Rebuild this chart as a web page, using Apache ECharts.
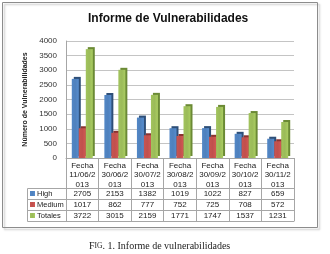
<!DOCTYPE html>
<html>
<head>
<meta charset="utf-8">
<script src="https://cdn.jsdelivr.net/npm/echarts@6/dist/echarts.min.js"></script>
<style>
html, body { margin: 0; padding: 0; background: #fff; }
#main { width: 330px; height: 254px; }
</style>
</head>
<body>
<div id="main"></div>
<script>
var fechas = ['11/06/2013', '30/06/2013', '30/07/2013', '30/08/2013', '30/09/2013', '30/10/2013', '30/11/2013']
var high = [2705, 2153, 1382, 1019, 1022, 827, 659]
var medium = [1017, 862, 777, 752, 725, 708, 572]
var totales = [3722, 3015, 2159, 1771, 1747, 1537, 1231]

var colors = ['#4F81BD', '#C0504D', '#9BBB59']
var sides = ['#2E4F78', '#8A3330', '#6B8A35']
var font = 'Liberation Sans'

var chart = echarts.init(document.getElementById('main'))

// header labels: "Fecha\n11/06/2\n013"
var headers = fechas.map(f => 'Fecha\n' + f.slice(0, 7) + '\n' + f.slice(7))

var rowAxis = function (values, offset) {
    return {
        type: 'category',
        data: values.map(String),
        position: 'bottom',
        offset: offset,
        axisLine: { show: true, lineStyle: { color: '#a6a6a6' } },
        axisTick: { show: false },
        axisLabel: { interval: 0, margin: 2, fontSize: 8, color: '#222', fontFamily: font }
    }
}

var barSeries = function (name, data, i) {
    return {
        name: name,
        type: 'bar',
        data: data,
        barWidth: 7,
        barGap: '0%',
        itemStyle: {
            color: new echarts.graphic.LinearGradient(0, 0, 1, 0, [
                { offset: 0, color: echarts.color.lift(colors[i], -0.05) },
                { offset: 0.5, color: colors[i] },
                { offset: 1, color: echarts.color.lift(colors[i], -0.1) }
            ]),
            shadowColor: sides[i],
            shadowOffsetX: 2,
            shadowOffsetY: -2,
            shadowBlur: 0
        }
    }
}

chart.setOption({
    animation: false,
    title: [{
        text: 'Informe de Vulnerabilidades',
        left: 83,
        top: 8,
        textStyle: { fontSize: 12, fontWeight: 'bold', color: '#111', fontFamily: font }
    }, {
        text: '{a|F}{b|IG}{a|. 1. Informe de vulnerabilidades}',
        left: 84,
        top: 236,
        textStyle: {
            fontWeight: 'normal',
            rich: {
                a: { fontSize: 10, fontWeight: 'normal', color: '#222', fontFamily: 'Liberation Serif' },
                b: { fontSize: 7.5, fontWeight: 'normal', color: '#222', fontFamily: 'Liberation Serif' }
            }
        }
    }],
    legend: {
        orient: 'vertical',
        left: 30,
        top: 188,
        padding: 0,
        itemWidth: 5,
        itemHeight: 5,
        itemGap: 0,
        icon: 'rect',
        textStyle: { fontSize: 7.5, lineHeight: 11, color: '#222', fontFamily: font, padding: [0, 0, 0, -3] },
        data: ['High', 'Medium', 'Totales']
    },
    grid: { left: 66, right: 36, top: 41, bottom: 96 },
    xAxis: [{
        type: 'category',
        data: headers,
        axisLine: { show: true, lineStyle: { color: '#a6a6a6' } },
        axisTick: { show: true, length: 63, lineStyle: { color: '#a6a6a6' } },
        axisLabel: { interval: 0, margin: 3, fontSize: 8, lineHeight: 9.5, color: '#222', fontFamily: font }
    },
        rowAxis(high, 30),
        rowAxis(medium, 41),
        rowAxis(totales, 52),
        rowAxis(fechas.map(() => ''), 63)
    ],
    yAxis: {
        type: 'value',
        min: 0,
        max: 4000,
        interval: 500,
        name: 'Número de Vulnerabilidades',
        nameLocation: 'middle',
        nameGap: 36,
        nameTextStyle: { fontSize: 7, fontWeight: 'bold', color: '#222', fontFamily: font },
        axisLine: { show: true, lineStyle: { color: '#a6a6a6' } },
        axisLabel: { margin: 9, fontSize: 8, color: '#333', fontFamily: font, formatter: v => String(v) },
        splitLine: { lineStyle: { color: '#c4c4c4' } }
    },
    graphic: [
        // frame around the chart
        { type: 'rect', shape: { x: 2.5, y: 2.5, width: 315, height: 225 },
          style: { fill: 'none', stroke: '#8c8c8c', lineWidth: 1, shadowColor: 'rgba(0,0,0,0.25)', shadowOffsetX: 2, shadowOffsetY: 2, shadowBlur: 2 } },
        // legend column of the data table
        { type: 'polyline', shape: { points: [[66, 188.5], [27.5, 188.5], [27.5, 221.5], [66, 221.5]] },
          style: { fill: 'none', stroke: '#a6a6a6' } },
        { type: 'line', shape: { x1: 27.5, y1: 199.5, x2: 66, y2: 199.5 }, style: { stroke: '#a6a6a6' } },
        { type: 'line', shape: { x1: 27.5, y1: 210.5, x2: 66, y2: 210.5 }, style: { stroke: '#a6a6a6' } }
    ],
    color: colors,
    series: [
        barSeries('High', high, 0),
        barSeries('Medium', medium, 1),
        barSeries('Totales', totales, 2)
    ]
})
</script>
</body>
</html>
